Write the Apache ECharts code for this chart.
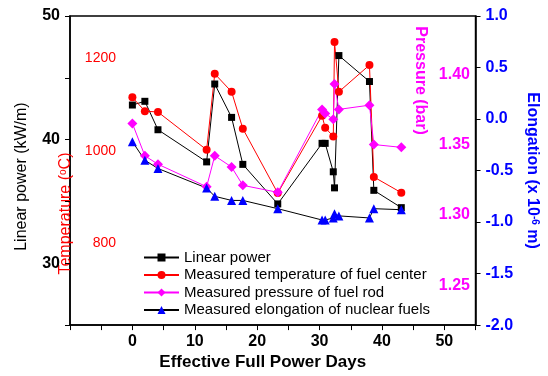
<!DOCTYPE html>
<html>
<head>
<meta charset="utf-8">
<script src="https://cdn.jsdelivr.net/npm/echarts@6/dist/echarts.min.js"></script>
<style>
  html, body { margin: 0; padding: 0; background: #fff; }
  #main { width: 548px; height: 376px; }
</style>
</head>
<body>
<div id="main"></div>
<script>
// effective full power days, shared by all four series
const days = [0, 2, 4.1, 11.9, 13.2, 15.9, 17.7, 23.3, 30.4, 30.9, 32.2, 32.4, 33.1, 38.0, 38.7, 43.1];
// linear power (kW/m)
const linearPower = [42.8, 43.1, 40.8, 38.2, 44.5, 41.8, 38.0, 34.8, 39.7, 39.7, 37.4, 36.1, 46.8, 44.7, 35.9, 34.5];
// fuel center temperature (C)
const temperature = [1116, 1086, 1084, 1002, 1167, 1128, 1048, 908, 1076, 1050, 1031, 1236, 1128, 1186, 943, 909];
// rod pressure (bar)
const pressure = [1.365, 1.342, 1.336, 1.320, 1.342, 1.334, 1.321, 1.316, 1.375, 1.372, 1.368, 1.393, 1.375, 1.378, 1.350, 1.348];
// elongation (x 10^-6 m)
const elongation = [-0.22, -0.40, -0.48, -0.67, -0.75, -0.79, -0.79, -0.87, -0.98, -0.98, -0.96, -0.92, -0.94, -0.96, -0.87, -0.88];

const tempLabels = [800, 1000, 1200];
const pressureLabels = [1.25, 1.30, 1.35, 1.40];

const seriesNames = [
  'Linear power',
  'Measured temperature of fuel center',
  'Measured pressure of fuel rod',
  'Measured elongation of nuclear fuels'
];

const FONT = 'Liberation Sans, Arial, sans-serif';

function pairs(ys) {
  return days.map((d, i) => [d, ys[i]]);
}

const chart = echarts.init(document.getElementById('main'));

chart.setOption({
  animation: false,
  textStyle: {fontFamily: FONT},
  grid: {
    left: 70, right: 68, top: 16, bottom: 48,
    show: true, borderColor: '#000', borderWidth: 1.5
  },
  legend: {
    orient: 'vertical',
    left: 138,
    top: 245,
    itemWidth: 35,
    itemHeight: 10,
    itemGap: 2.5,
    textStyle: {fontSize: 15, color: '#000', fontFamily: FONT},
    data: seriesNames
  },
  xAxis: {
    type: 'value',
    min: -10,
    max: 55,
    interval: 5,
    name: 'Effective Full Power Days',
    nameLocation: 'middle',
    nameGap: 28,
    nameTextStyle: {fontSize: 17, fontWeight: 'bold', color: '#000', padding: [0, 20, 0, 0]},
    axisLine: {onZero: false, lineStyle: {color: '#000', width: 1.5}},
    axisTick: {inside: false, length: 5, lineStyle: {color: '#000'}},
    axisLabel: {
      fontSize: 16, fontWeight: 'bold', color: '#000', margin: 8,
      formatter: v => (v >= 0 && v <= 50 && v % 10 === 0) ? String(v) : ''
    },
    splitLine: {show: false}
  },
  yAxis: [
    {
      // linear power
      type: 'value',
      position: 'left',
      min: 25,
      max: 50,
      interval: 5,
      name: 'Linear power (kW/m)',
      nameLocation: 'middle',
      nameGap: 40,
      nameTextStyle: {fontSize: 16, color: '#000', padding: [0, 12, 0, 0]},
      axisLine: {show: true, onZero: false, lineStyle: {color: '#000', width: 1.5}},
      axisTick: {show: true, inside: false, length: 5, lineStyle: {color: '#000'}},
      axisLabel: {
        fontSize: 16, fontWeight: 'bold', color: '#000', margin: 10,
        formatter: v => v % 10 === 0 ? String(v) : ''
      },
      splitLine: {show: false}
    },
    {
      // temperature, drawn inside the plot
      type: 'value',
      position: 'left',
      offset: -60,
      min: 621.5,
      max: 1292.5,
      name: 'Temperature ({sup|o}C)',
      nameLocation: 'middle',
      nameGap: 4,
      nameTextStyle: {
        fontSize: 16, color: '#ff0000', padding: [0, 86, 0, 0],
        rich: {sup: {fontSize: 10, color: '#ff0000', verticalAlign: 'top', fontFamily: FONT}}
      },
      axisLine: {show: false, onZero: false},
      axisTick: {show: false},
      axisLabel: {
        fontSize: 14, color: '#ff0000', margin: 14,
        customValues: tempLabels,
        formatter: v => String(v)
      },
      splitLine: {show: false}
    },
    {
      // pressure, labels right-aligned inside the plot
      type: 'value',
      position: 'left',
      offset: -408,
      min: 1.2216,
      max: 1.4414,
      name: 'Pressure (bar)',
      nameLocation: 'middle',
      nameRotate: -90,
      nameGap: 45,
      nameTextStyle: {fontSize: 16, fontWeight: 'bold', color: '#ff00ff', padding: [0, 180, 0, 0]},
      axisLine: {show: false, onZero: false},
      axisTick: {show: false},
      axisLabel: {
        fontSize: 16, fontWeight: 'bold', color: '#ff00ff', margin: 8,
        customValues: pressureLabels,
        formatter: v => v.toFixed(2)
      },
      splitLine: {show: false}
    },
    {
      // elongation
      type: 'value',
      position: 'right',
      min: -2,
      max: 1,
      interval: 0.5,
      name: 'Elongation (x 10{sup|-6} m)',
      nameLocation: 'middle',
      nameRotate: -90,
      nameGap: 44,
      nameTextStyle: {
        fontSize: 16, fontWeight: 'bold', color: '#0000ff',
        rich: {sup: {fontSize: 10, fontWeight: 'bold', color: '#0000ff', verticalAlign: 'top', fontFamily: FONT}}
      },
      axisLine: {show: true, onZero: false, lineStyle: {color: '#000', width: 1.5}},
      axisTick: {show: true, inside: false, length: 5, lineStyle: {color: '#000'}},
      axisLabel: {
        fontSize: 16, fontWeight: 'bold', color: '#0000ff', margin: 10,
        formatter: v => v.toFixed(1)
      },
      splitLine: {show: false}
    }
  ],
  series: [
    {
      name: seriesNames[0],
      type: 'line',
      yAxisIndex: 0,
      data: pairs(linearPower),
      symbol: 'rect',
      symbolSize: 7,
      color: '#000000',
      lineStyle: {width: 1},
      itemStyle: {color: '#000000'}
    },
    {
      name: seriesNames[1],
      type: 'line',
      yAxisIndex: 1,
      data: pairs(temperature),
      symbol: 'circle',
      symbolSize: 8,
      color: '#ff0000',
      lineStyle: {width: 1},
      itemStyle: {color: '#ff0000'}
    },
    {
      name: seriesNames[2],
      type: 'line',
      yAxisIndex: 2,
      data: pairs(pressure),
      symbol: 'diamond',
      symbolSize: 10,
      color: '#ff00ff',
      lineStyle: {width: 1},
      itemStyle: {color: '#ff00ff'}
    },
    {
      name: seriesNames[3],
      type: 'line',
      yAxisIndex: 3,
      data: pairs(elongation),
      symbol: 'triangle',
      symbolSize: 9,
      color: '#0000ff',
      lineStyle: {width: 1, color: '#000'},
      itemStyle: {color: '#0000ff'}
    }
  ]
});
</script>
</body>
</html>
